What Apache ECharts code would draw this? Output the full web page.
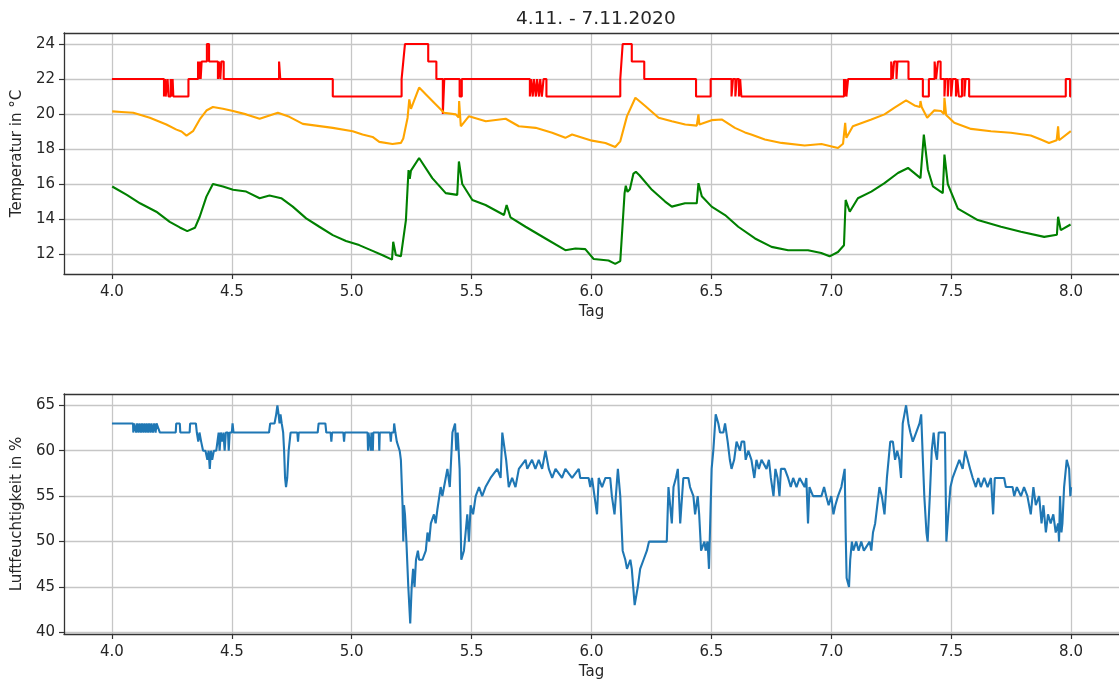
<!DOCTYPE html>
<html>
<head>
<meta charset="utf-8">
<script src="https://cdn.jsdelivr.net/npm/echarts@6/dist/echarts.min.js"></script>
<style>
html,body{margin:0;padding:0;background:#fff;}
#chart{width:1119px;height:682px;}
</style>
</head>
<body>
<div id="chart"></div>
<script>
// ---------- data ----------
const titleText = '4.11. - 7.11.2020';
const xTicks = [4.0, 4.5, 5.0, 5.5, 6.0, 6.5, 7.0, 7.5, 8.0];
const tempTicks = [12, 14, 16, 18, 20, 22, 24];
const humTicks = [40, 45, 50, 55, 60, 65];

// red: set temperature (value holds from x until next x)
const redX = [4.000,4.217,4.222,4.224,4.232,4.236,4.245,4.250,4.253,4.256,4.319,
  4.359,4.362,4.366,4.370,4.374,4.396,4.405,4.442,4.446,4.452,4.456,4.466,
  4.697,4.702,4.921,5.208,5.215,5.222,5.319,5.353,5.380,5.386,5.450,5.459,
  5.743,5.748,5.755,5.760,5.768,5.773,5.781,5.786,5.793,5.800,5.812,
  6.120,6.125,6.130,6.168,6.220,6.436,6.497,6.584,6.590,6.600,6.606,6.615,6.620,6.625,
  7.053,7.056,7.060,7.063,7.070,7.250,7.256,7.262,7.272,7.276,7.322,7.382,7.407,
  7.431,7.437,7.445,7.456,7.472,7.476,7.486,7.490,7.500,7.506,7.520,7.526,7.532,7.545,
  7.555,7.560,7.575,7.583,7.978,7.996,8.000];
const redY = [22,21,22,21,22,21,22,21,22,21,22,
  23,22,23,22,23,24,23,22,23,22,23,22,
  23,22,21,22,23,24,23,22,20,22,21,22,
  21,22,21,22,21,22,21,22,21,22,21,
  22,23,24,23,22,21,22,21,22,21,22,21,22,21,
  22,21,22,21,22,23,22,23,22,23,22,21,22,
  23,22,23,22,21,22,21,22,21,22,21,22,21,22,
  21,22,21,21,22,21,21];

// orange: room temperature
const orangeX = [4.001,4.040,4.089,4.158,4.227,4.269,4.290,4.311,4.338,4.366,4.394,4.421,4.463,4.505,
  4.560,4.616,4.692,4.740,4.796,4.851,4.921,5.004,5.045,5.087,5.115,5.170,5.205,5.215,5.233,
  5.240,5.247,5.281,5.323,5.357,5.385,5.434,5.446,5.448,5.455,5.489,5.559,5.642,5.697,5.767,
  5.836,5.891,5.919,6.002,6.058,6.099,6.120,6.148,6.183,6.224,6.280,6.335,6.391,6.439,6.446,
  6.450,6.501,6.543,6.598,6.640,6.666,6.723,6.792,6.889,6.959,7.028,7.049,7.058,7.063,7.090,
  7.167,7.222,7.264,7.312,7.347,7.370,7.372,7.377,7.400,7.430,7.458,7.470,7.472,7.479,7.513,
  7.583,7.666,7.749,7.832,7.874,7.908,7.940,7.946,7.950,7.999];
const orangeY = [20.15,20.12,20.07,19.79,19.40,19.11,19.00,18.77,19.02,19.69,20.20,20.40,20.30,20.17,
  19.98,19.73,20.07,19.84,19.44,19.34,19.21,19.02,18.83,18.69,18.41,18.29,18.35,18.60,19.79,
  20.84,20.30,21.51,20.93,20.46,20.07,19.98,19.80,20.74,19.30,19.88,19.59,19.73,19.30,19.21,
  18.93,18.64,18.83,18.48,18.35,18.12,18.44,19.88,20.93,20.46,19.79,19.59,19.40,19.34,19.98,
  19.40,19.65,19.69,19.21,18.95,18.83,18.54,18.35,18.20,18.29,18.06,18.30,19.50,18.64,19.30,
  19.69,19.98,20.36,20.78,20.49,20.40,20.74,20.40,19.79,20.21,20.17,20.00,20.93,19.95,19.50,
  19.15,19.02,18.93,18.77,18.54,18.35,18.50,19.30,18.50,19.02];

// green: second temperature sensor
const greenX = [4.001,4.062,4.117,4.185,4.241,4.283,4.314,4.346,4.366,4.394,4.421,4.463,4.505,4.560,
  4.616,4.657,4.706,4.754,4.810,4.865,4.921,4.976,5.031,5.087,5.129,5.168,5.173,5.184,5.205,
  5.226,5.233,5.237,5.242,5.247,5.281,5.336,5.392,5.440,5.447,5.461,5.503,5.558,5.635,5.646,
  5.662,5.725,5.808,5.891,5.933,5.974,6.009,6.071,6.099,6.120,6.138,6.143,6.150,6.160,6.175,
  6.185,6.200,6.252,6.307,6.335,6.390,6.439,6.446,6.460,6.501,6.557,6.612,6.682,6.751,6.820,
  6.903,6.958,6.993,7.028,7.053,7.060,7.077,7.111,7.167,7.222,7.278,7.320,7.372,7.386,7.403,
  7.424,7.465,7.472,7.486,7.528,7.611,7.708,7.791,7.888,7.941,7.946,7.957,7.998];
const greenY = [15.86,15.38,14.90,14.42,13.84,13.52,13.31,13.50,14.13,15.28,16.00,15.86,15.67,15.57,
  15.19,15.34,15.19,14.71,14.04,13.56,13.08,12.75,12.51,12.18,11.93,11.68,12.70,11.95,11.87,
  13.94,15.80,16.80,16.30,16.77,17.49,16.34,15.48,15.38,17.29,16.00,15.09,14.80,14.23,14.80,
  14.10,13.56,12.89,12.22,12.32,12.28,11.72,11.63,11.44,11.60,15.48,15.90,15.55,15.70,16.60,
  16.70,16.50,15.67,15.00,14.71,14.90,14.90,16.05,15.30,14.71,14.23,13.56,12.89,12.41,12.22,
  12.22,12.06,11.87,12.12,12.50,15.09,14.42,15.19,15.57,16.05,16.63,16.92,16.34,18.83,16.82,
  15.86,15.48,17.68,16.00,14.60,13.94,13.56,13.27,12.98,13.10,14.13,13.37,13.69];

// blue: relative humidity
const humX = [4.000,4.088,4.089,4.093,4.100,4.101,4.105,4.110,4.111,4.115,4.120,4.121,4.125,4.130,4.131,
  4.135,4.140,4.141,4.145,4.150,4.151,4.155,4.160,4.161,4.165,4.170,4.171,4.176,4.181,4.182,4.186,4.200,
  4.207,4.266,4.268,4.283,4.285,4.324,4.326,4.350,4.354,4.360,4.365,4.372,4.380,4.390,4.398,4.403,
  4.408,4.413,4.418,4.425,4.435,4.440,4.445,4.449,4.454,4.460,4.465,4.470,4.475,4.484,4.487,4.491,
  4.500,4.503,4.507,4.655,4.660,4.678,4.685,4.690,4.695,4.699,4.703,4.708,4.714,4.718,4.722,4.726,
  4.731,4.737,4.745,4.773,4.776,4.779,4.858,4.862,4.890,4.894,4.912,4.915,4.918,4.965,4.968,4.971,
  5.066,5.068,5.070,5.078,5.080,5.082,5.086,5.088,5.090,5.113,5.115,5.117,5.160,5.163,5.166,5.175,
  5.177,5.182,5.188,5.194,5.200,5.205,5.212,5.215,5.218,5.222,5.228,5.236,5.244,5.250,5.256,5.262,
  5.268,5.276,5.281,5.295,5.309,5.316,5.323,5.330,5.343,5.350,5.357,5.371,5.378,5.385,5.392,5.399,
  5.409,5.420,5.431,5.436,5.442,5.450,5.457,5.468,5.475,5.482,5.489,5.496,5.506,5.517,5.531,5.544,
  5.558,5.579,5.607,5.621,5.628,5.636,5.644,5.655,5.669,5.683,5.697,5.725,5.732,5.752,5.766,5.780,
  5.794,5.808,5.822,5.836,5.850,5.877,5.891,5.919,5.947,5.953,5.988,5.995,6.002,6.023,6.030,6.044,
  6.058,6.078,6.085,6.096,6.110,6.120,6.130,6.141,6.148,6.162,6.168,6.180,6.193,6.203,6.217,6.231,
  6.240,6.314,6.321,6.328,6.335,6.342,6.352,6.360,6.370,6.383,6.404,6.411,6.425,6.432,6.443,6.449,
  6.457,6.471,6.476,6.484,6.490,6.501,6.508,6.518,6.529,6.536,6.550,6.557,6.568,6.577,6.584,6.595,
  6.605,6.619,6.626,6.637,6.643,6.654,6.667,6.679,6.688,6.698,6.709,6.730,6.740,6.748,6.759,6.767,
  6.776,6.784,6.790,6.806,6.820,6.831,6.841,6.855,6.868,6.889,6.896,6.903,6.909,6.924,6.945,6.959,
  6.970,6.979,6.989,7.000,7.009,7.017,7.028,7.042,7.056,7.060,7.064,7.074,7.079,7.086,7.092,7.104,
  7.114,7.125,7.136,7.160,7.167,7.174,7.183,7.192,7.201,7.211,7.222,7.232,7.239,7.246,7.257,7.266,
  7.275,7.284,7.291,7.298,7.305,7.312,7.322,7.330,7.340,7.354,7.368,7.375,7.382,7.388,7.397,7.402,
  7.411,7.419,7.427,7.434,7.441,7.448,7.458,7.474,7.480,7.488,7.497,7.506,7.520,7.534,7.548,7.559,
  7.569,7.579,7.590,7.603,7.613,7.624,7.638,7.652,7.666,7.675,7.682,7.721,7.728,7.756,7.763,7.774,
  7.791,7.804,7.818,7.832,7.843,7.853,7.867,7.877,7.885,7.895,7.904,7.915,7.926,7.936,7.946,7.950,
  7.954,7.960,7.964,7.971,7.982,7.992,7.997,8.000];
const humY = [63,63,62,63,63,62,63,63,62,63,63,62,63,63,62,
  63,63,62,63,63,62,63,63,62,63,63,62,63,63,62,63,62,
  62,62,63,63,62,62,63,63,62,61,62,61,60,60,59,60,
  58,60,59,60,60,61,62,60,62,61,62,60,62,62,60,62,
  62,63,62,62,63,63,64,65,64,63,64,63,62,60,57,56,
  57,60,62,62,61,62,62,63,63,62,62,61,62,62,61,62,
  62,60,62,62,60,62,62,60,62,62,60,62,62,61,62,62,
  63,62,61,61,60,59,54,50,54,53,50,45,41,45,47,45,
  48,49,48,48,49,51,50,52,53,52,53.5,56,55,56,57,58,
  56,62,63,60,62,58,48,49,51,53,50,54,53,55,56,55,
  56,57,58,57,62,62,59,56,57,56,58,59,58,59,58,59,
  58,60,58,57,58,57,58,57,58,57,57,56,57,53,57,56,
  57,57,55,53,58,55,49,48,47,48,47,43,45,47,48,49,
  50,50,56,54,52,56,57,58,52,57,57,56,55,53,55,53,
  49,50,49,50,47,58,60,64,63,62,62,63,61,59,58,59,
  61,60,61,61,59,60,59,57,59,58,59,58,59,57,55,58,
  57,55,58,58,57,56,57,56,57,56,57,52,56,55,55,55,
  56,55,54,55,53,54,55,56,58,51,46,45,48,50,49,50,
  49,50,49,50,49,51,52,54,56,55,53,57,59,61,61,59,
  60,59,57,63,64,65,63,62,61,62,63,64,59,55,51,50,
  55,60,62,60,59,62,62,62,50,53,56,57,58,59,58,60,
  59,58,57,56,57,56,57,56,57,53,57,57,56,56,55,56,
  55,56,55,53,56,54,55,52,54,51,53,52,53,51,52,50,
  55,51,52,56,59,58,55,56];

// ---------- chart ----------
const zip = (xs, ys) => xs.map((x, i) => [x, ys[i]]);
const FONT = 'DejaVu Sans';
const TXT = '#262626';
const GRIDC = '#c6c6c6';
const SPINE = '#333333';

function xMain(gi) {
  return {
    type: 'value', gridIndex: gi, min: 3.8, max: 8.2, position: 'bottom',
    name: 'Tag', nameLocation: 'middle', nameGap: 31,
    nameTextStyle: { fontFamily: FONT, fontSize: 15, color: TXT },
    axisLine: { show: true, onZero: false, lineStyle: { color: SPINE, width: 1.3 } },
    axisTick: { show: true, customValues: xTicks, length: 5, lineStyle: { color: SPINE, width: 1.2 } },
    axisLabel: { customValues: xTicks, formatter: v => v.toFixed(1), fontFamily: FONT, fontSize: 15, color: TXT, margin: 11 },
    splitLine: { show: true, lineStyle: { color: GRIDC, width: 1.3 } }
  };
}
function xTop(gi) {
  return {
    type: 'value', gridIndex: gi, min: 3.8, max: 8.2, position: 'top',
    axisLine: { show: true, onZero: false, lineStyle: { color: SPINE, width: 1.3 } },
    axisTick: { show: false }, axisLabel: { show: false }, splitLine: { show: false }
  };
}
function yAx(gi, min, max, ticks, name) {
  return {
    type: 'value', gridIndex: gi, min: min, max: max,
    name: name, nameLocation: 'middle', nameGap: 36, nameRotate: 90,
    nameTextStyle: { fontFamily: FONT, fontSize: 15, color: TXT },
    axisLine: { show: true, onZero: false, lineStyle: { color: SPINE, width: 1.3 } },
    axisTick: { show: true, customValues: ticks, length: 5, lineStyle: { color: SPINE, width: 1.2 } },
    axisLabel: { customValues: ticks, fontFamily: FONT, fontSize: 15, color: TXT, margin: 9 },
    splitLine: { show: true, lineStyle: { color: GRIDC, width: 1.3 } }
  };
}
function lineSeries(data, color, xi, yi, step) {
  return {
    type: 'line', data: data, xAxisIndex: xi, yAxisIndex: yi,
    showSymbol: false, symbol: 'none', step: step || false,
    lineStyle: { color: color, width: 2.1 }, itemStyle: { color: color },
    clip: true, z: 3
  };
}

const chart = echarts.init(document.getElementById('chart'), null, { renderer: 'canvas' });
chart.setOption({
  animation: false,
  backgroundColor: '#ffffff',
  title: {
    text: titleText, left: 511, top: 5,
    textStyle: { fontFamily: FONT, fontSize: 18.5, fontWeight: 'normal', color: TXT }
  },
  grid: [
    { left: 64, right: -3, top: 33, height: 241 },
    { left: 64, right: -3, top: 394, height: 240 }
  ],
  xAxis: [xMain(0), xTop(0), xMain(1), xTop(1)],
  yAxis: [
    yAx(0, 10.86, 24.63, tempTicks, 'Temperatur in °C'),
    yAx(1, 39.83, 66.24, humTicks, 'Luftfeuchtigkeit in %')
  ],
  series: [
    lineSeries(zip(redX, redY), '#ff0000', 0, 0, 'end'),
    lineSeries(zip(orangeX, orangeY), '#ffa500', 0, 0),
    lineSeries(zip(greenX, greenY), '#008000', 0, 0),
    lineSeries(zip(humX, humY), '#1f77b4', 2, 1)
  ]
});
</script>
</body>
</html>
